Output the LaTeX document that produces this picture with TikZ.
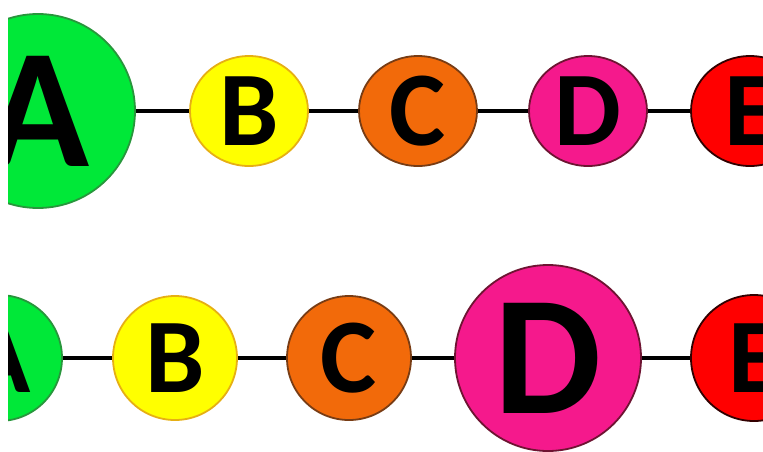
\documentclass[tikz,border=0pt]{standalone}
\usepackage{fontspec}
\setmainfont{Carlito}
\usetikzlibrary{shapes.geometric}
\definecolor{ballA}{RGB}{0,232,56}
\definecolor{rimA}{RGB}{40,150,60}
\definecolor{ballB}{RGB}{255,255,0}
\definecolor{rimB}{RGB}{230,175,20}
\definecolor{ballC}{RGB}{242,106,10}
\definecolor{rimC}{RGB}{120,60,20}
\definecolor{ballD}{RGB}{245,25,140}
\definecolor{rimD}{RGB}{110,20,50}
\definecolor{ballE}{RGB}{255,0,0}
\definecolor{rimE}{RGB}{50,0,0}

\begin{document}
\begin{tikzpicture}[x=1pt,y=-1pt,
  ball/.style={circle, draw, line width=1.8pt, inner sep=0pt,
    font=\bfseries\fontsize{106}{106}\selectfont},
  flatball/.style={ball, ellipse, minimum width=118pt, minimum height=110pt},
  bigball/.style={ball, font=\bfseries\fontsize{170}{170}\selectfont},
  link/.style={line width=4pt, black}]
  \def\Ytop{111};
  \def\Ybot{358};
  \useasboundingbox (0,0) rectangle (763,451);
  \clip (8,0) rectangle (763,451);
         % upper row
         \node[bigball, fill=ballA, draw=rimA, minimum size=194pt] (A1) at (38,\Ytop) {A};
         \node[flatball, fill=ballB, draw=rimB] (B1) at (249,\Ytop) {B};
         \node[flatball, fill=ballC, draw=rimC] (C1) at (418,\Ytop) {C};
         \node[flatball, fill=ballD, draw=rimD] (D1) at (588,\Ytop) {D};
         \node[flatball, fill=ballE, draw=rimE] (E1) at (750,\Ytop) {E};

         % lower row
         \node[ball, fill=ballA, draw=rimA, minimum size=126pt] (A2) at (-1,\Ybot) {A};
         \node[ball, fill=ballB, draw=rimB, minimum size=124pt] (B2) at (175,\Ybot) {B};
         \node[ball, fill=ballC, draw=rimC, minimum size=124pt] (C2) at (349,\Ybot) {C};
         \node[bigball, fill=ballD, draw=rimD, minimum size=186pt] (D2) at (548,\Ybot) {D};
         \node[ball, fill=ballE, draw=rimE, minimum size=126pt] (E2) at (754,\Ybot) {E};

	\draw[link] (A1) -- (B1) (B1) -- (C1) (C1) -- (D1) (D1) -- (E1);
	\draw[link] (A2) -- (B2) (B2) -- (C2) (C2) -- (D2) (D2) -- (E2);
\end{tikzpicture}
\end{document}
